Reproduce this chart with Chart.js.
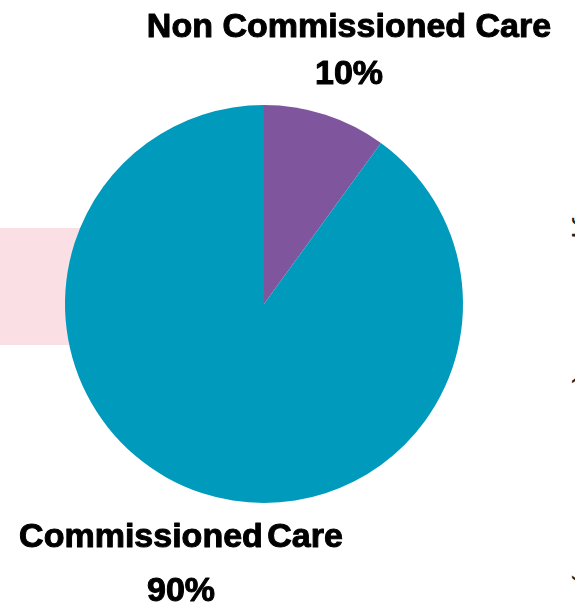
<!DOCTYPE html>
<html>
<head>
<meta charset="utf-8">
<script src="https://cdn.jsdelivr.net/npm/chart.js@4/dist/chart.umd.min.js"></script>
<style>
  html, body { margin: 0; padding: 0; background: #fff; overflow: hidden; }
  #wrap { position: relative; width: 575px; height: 607px; overflow: hidden; }
  #band { position: absolute; left: 0; top: 228px; width: 90px; height: 117px; background: #fadfe5; }
  #side { position: absolute; left: 575px; top: 200px; font: 30px "Liberation Sans", Arial, sans-serif; color: #222;
          transform-origin: 0 0; transform: rotate(90deg) translate(0, -30px); white-space: nowrap; }
  canvas { position: absolute; left: 0; top: 0; }
</style>
</head>
<body>
<div id="wrap">
  <div id="band"></div>
  <div id="side">Type of care (commissioned)</div>
  <canvas id="care_pie" width="575" height="607"></canvas>
</div>
<script>
// (pie) commissioned vs non commissioned care
let care_labels = ['Non Commissioned Care', 'Commissioned Care'];
let care_values = [10, 90];
let care_colors = ['#7f559d', '#009abd'];

function care_percent(v) {
    let total = care_values.reduce((a, b) => a + b, 0);
    return Math.round(v / total * 100) + '%';
}

// label spots: [x, name baseline, percent baseline, word gap]
let label_spots = [
    [349, 37, 84, '0px'],
    [181, 547, 601, '-5px']
];

let care_label_plugin = {
    id: 'care_label_plugin',
    afterDraw(chart) {
        let ctx = chart.ctx;
        ctx.save();
        ctx.fillStyle = '#000';
        ctx.strokeStyle = '#000';
        ctx.lineWidth = 1;
        ctx.lineJoin = 'round';
        ctx.textAlign = 'center';
        ctx.textBaseline = 'alphabetic';
        ctx.font = 'bold 34px "Liberation Sans", Arial, sans-serif';
        care_labels.forEach((name, i) => {
            let s = label_spots[i];
            ctx.wordSpacing = s[3];
            ctx.fillText(name, s[0], s[1]);
            ctx.strokeText(name, s[0], s[1]);
            let pct = care_percent(care_values[i]);
            ctx.fillText(pct, s[0], s[2]);
            ctx.strokeText(pct, s[0], s[2]);
        });
        ctx.restore();
    }
};

let data = {
    labels: care_labels,
    datasets: [{
        label: 'Care',
        data: care_values,
        backgroundColor: care_colors,
        borderWidth: 0,
        hoverOffset: 0
    }]
};

let config = {
    type: 'pie',
    data: data,
    options: {
        responsive: false,
        animation: false,
        layout: { padding: { left: 65, right: 112, top: 105, bottom: 104 } },
        plugins: {
            legend: { display: false },
            tooltip: { enabled: false }
        }
    },
    plugins: [care_label_plugin]
};

let care_chart = new Chart(document.getElementById('care_pie'), config);
</script>
</body>
</html>
